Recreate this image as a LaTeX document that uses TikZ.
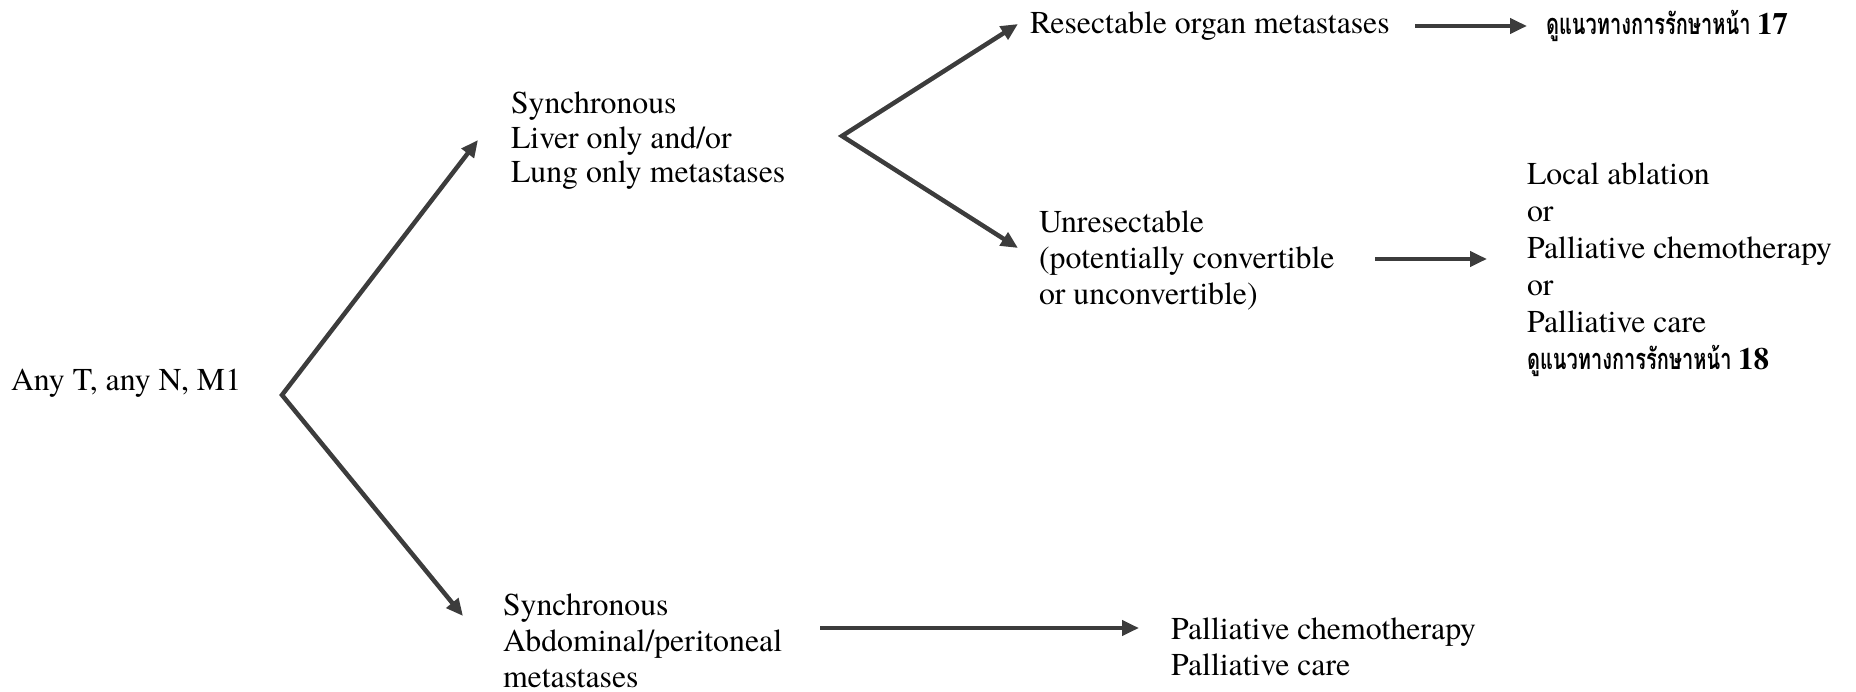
\documentclass[tikz,border=0pt]{standalone}
\usepackage{fontspec}
\setmainfont{texgyretermes-regular.otf}[BoldFont=texgyretermes-bold.otf]
\newfontfamily\thaifont[Script=Thai,FakeStretch=0.69]{Loma}
\usetikzlibrary{arrows.meta}
\definecolor{arrowgray}{RGB}{60,60,60}
% left-aligned block of lines whose baseline is that of its first line
\newcommand\txtlines[1]{\begin{tabular}[t]{@{}l@{}}#1\end{tabular}}
% Thai page reference followed by a bold page number
\newcommand\thairef[1]{\makebox[198pt][l]{\thaifont\bfseries\fontsize{29}{30}\selectfont ดูแนวทางการรักษาหน้า}\hspace{13pt}{\bfseries\fontsize{31}{32}\selectfont #1}}
\begin{document}
\begin{tikzpicture}[x=1pt,y=-1pt,
  every node/.style={inner sep=0pt,outer sep=0pt},
  txt/.style={anchor=base west,font=\fontsize{31.8}{36}\selectfont},
  arr/.style={draw=arrowgray,line width=4.5pt,-{Triangle[length=17pt,width=15pt]}},
  fork/.style={draw=arrowgray,line width=4.5pt,{Triangle[length=17pt,width=15pt]}-{Triangle[length=17pt,width=15pt]}}]
\useasboundingbox (0,0) rectangle (1856,692);

% text blocks
\node[txt] (anyT) at (11,391) {Any T, any N, M1};
\node[txt,font=\fontsize{31.8}{34.5}\selectfont] (sync1) at (511,114)
  {\txtlines{Synchronous\\Liver only and/or\\Lung only metastases}};
\node[txt] (sync2) at (503,615) {\txtlines{Synchronous\\Abdominal/peritoneal\\metastases}};
\node[txt] (res) at (1030,34) {Resectable organ metastases};
\node[txt] (ref17) at (1546,35) {\thairef{17}};
\node[txt] (unres) at (1039,233) {\txtlines{Unresectable\\(potentially convertible\\or unconvertible)}};
\node[txt,font=\fontsize{31.8}{37}\selectfont] (opts) at (1527,185)
  {\txtlines{Local ablation\\or\\Palliative chemotherapy\\or\\Palliative care\\\thairef{18}}};
\node[txt] (pall) at (1171,639) {\txtlines{Palliative chemotherapy\\Palliative care}};

% branching points and arrow ends
\coordinate (v1) at (282,395);
\coordinate (v1a) at (478,140);
\coordinate (v1b) at (463,616);
\coordinate (v2) at (842,136);
\coordinate (v2a) at (1018,24);
\coordinate (v2b) at (1018,248);
\coordinate (h1s) at (1415,26);
\coordinate (h1e) at (1527,26);
\coordinate (h2s) at (1375,259);
\coordinate (h2e) at (1487,259);
\coordinate (h3s) at (820,628);
\coordinate (h3e) at (1139,628);

% connectors
\draw[fork] (v1a) -- (v1) -- (v1b);
\draw[fork] (v2a) -- (v2) -- (v2b);
\draw[arr] (h1s) -- (h1e);
\draw[arr] (h2s) -- (h2e);
\draw[arr] (h3s) -- (h3e);
\end{tikzpicture}
\end{document}
